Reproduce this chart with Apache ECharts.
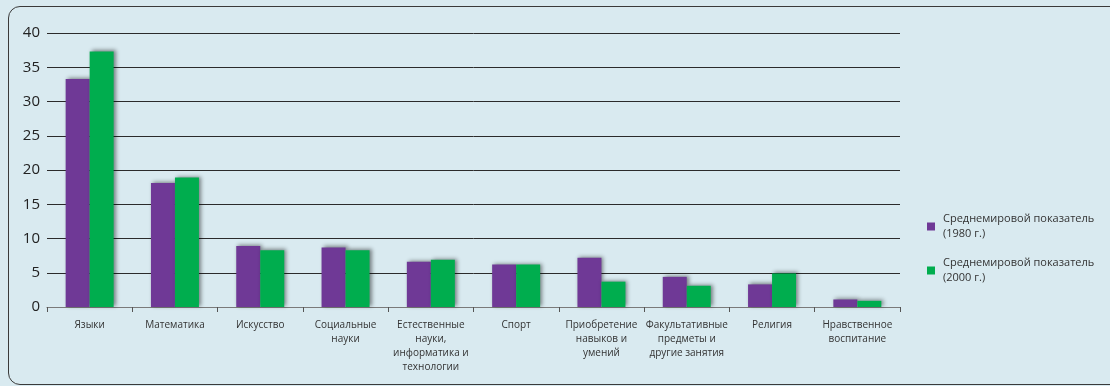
<!DOCTYPE html>
<html>
<head>
<meta charset="utf-8">
<script src="https://cdn.jsdelivr.net/npm/echarts@6/dist/echarts.min.js"></script>
<style>
  html, body { margin: 0; padding: 0; background: #d9eaf0; }
  #frame {
    position: absolute; left: 8px; top: 6px; width: 1130px; height: 379px;
    border: 1.5px solid #3a3a3a; border-radius: 12px; box-sizing: border-box;
  }
  #chart { position: absolute; left: 0; top: 0; width: 1110px; height: 386px; }
</style>
</head>
<body>
<div id="frame"></div>
<div id="chart"></div>
<script>
// Subject areas (category axis)
const categories = [
  'Языки',
  'Математика',
  'Искусство',
  'Социальные\nнауки',
  'Естественные\nнауки,\nинформатика и\nтехнологии',
  'Спорт',
  'Приобретение\nнавыков и\nумений',
  'Факультативные\nпредметы и\nдругие занятия',
  'Религия',
  'Нравственное\nвоспитание'
];

// Share of teaching time, world average
const values1980 = [33.3, 18.1, 8.9, 8.7, 6.6, 6.2, 7.2, 4.4, 3.3, 1.1];
const values2000 = [37.3, 18.9, 8.3, 8.3, 6.9, 6.2, 3.7, 3.1, 4.9, 0.9];

const seriesNames = [
  'Среднемировой показатель\n(1980 г.)',
  'Среднемировой показатель\n(2000 г.)'
];

// Y axis ticks
const yMin = 0, yMax = 40, yStep = 5;

const FONT = '"Open Sans", "Noto Sans", sans-serif';
const PURPLE = '#6f3996';
const GREEN = '#00ad4e';

const chart = echarts.init(document.getElementById('chart'));

const barShadow = {
  shadowBlur: 4,
  shadowColor: 'rgba(0,0,0,0.45)',
  shadowOffsetX: 2,
  shadowOffsetY: -1
};

const legendText = {
  fontFamily: FONT,
  fontSize: 11,
  color: '#333',
  lineHeight: 15,
  padding: [15, 0, 0, 3]
};

chart.setOption({
  animation: false,
  backgroundColor: 'transparent',
  grid: { left: 47, right: 210, top: 33, bottom: 79, containLabel: false },
  legend: [
    {
      data: [seriesNames[0]],
      orient: 'vertical',
      left: 922, top: 199,
      itemWidth: 8, itemHeight: 8,
      icon: 'rect',
      itemGap: 0,
      textStyle: legendText
    },
    {
      data: [seriesNames[1]],
      orient: 'vertical',
      left: 922, top: 243,
      itemWidth: 8, itemHeight: 8,
      icon: 'rect',
      itemGap: 0,
      textStyle: legendText
    }
  ],
  xAxis: {
    type: 'category',
    data: categories,
    axisLine: { show: true, lineStyle: { color: '#7a7a7a', width: 1.2 } },
    axisTick: { show: true, length: 5, lineStyle: { color: '#555' } },
    axisLabel: {
      interval: 0,
      margin: 11,
      fontFamily: FONT,
      fontSize: 10,
      lineHeight: 14,
      color: '#333',
      align: 'center'
    }
  },
  yAxis: {
    type: 'value',
    min: yMin, max: yMax, interval: yStep,
    axisLine: { show: false },
    axisTick: { show: false },
    splitLine: { lineStyle: { color: '#2b2b2b', width: 1 } },
    axisLabel: {
      margin: 7,
      fontFamily: FONT,
      fontSize: 15,
      color: '#222'
    }
  },
  series: [
    {
      name: seriesNames[0],
      type: 'bar',
      data: values1980,
      barWidth: 24,
      barGap: '0%',
      itemStyle: Object.assign({ color: PURPLE }, barShadow)
    },
    {
      name: seriesNames[1],
      type: 'bar',
      data: values2000,
      barWidth: 24,
      barGap: '0%',
      itemStyle: Object.assign({ color: GREEN }, barShadow)
    }
  ]
});
</script>
</body>
</html>
